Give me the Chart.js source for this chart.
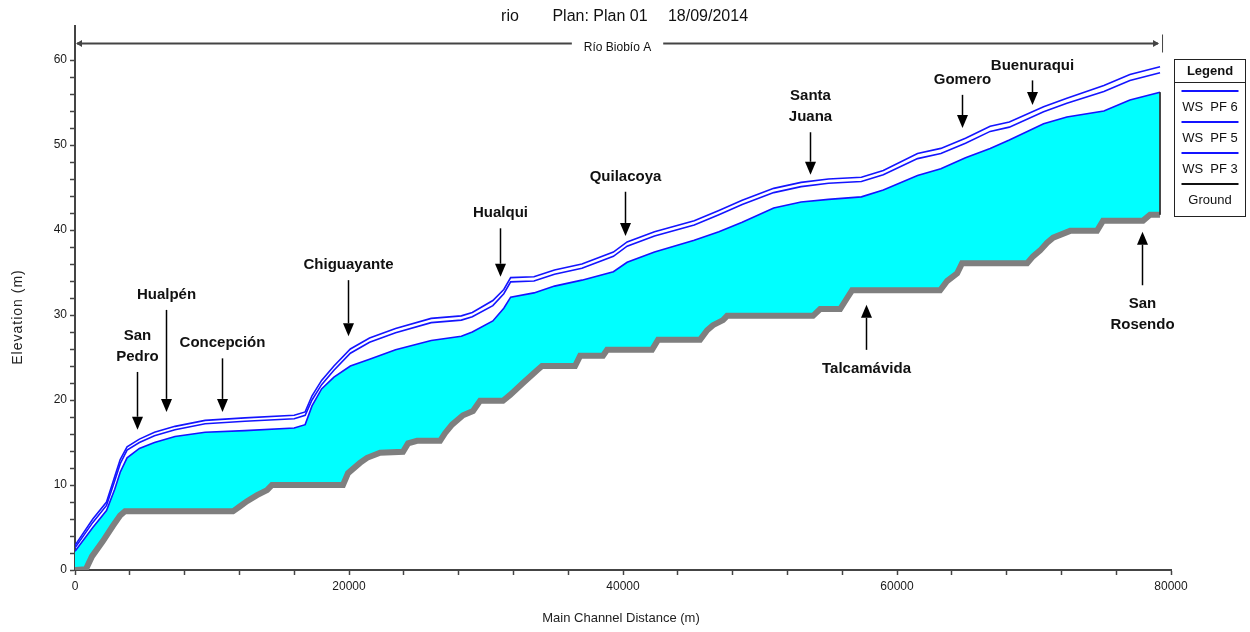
<!DOCTYPE html>
<html>
<head>
<meta charset="utf-8">
<script src="https://cdn.jsdelivr.net/npm/chart.js@4.4.1/dist/chart.umd.min.js"></script>
<style>
  html, body { margin: 0; padding: 0; background: #fff; }
  #wrap { width: 1250px; height: 632px; }
</style>
</head>
<body>
<div id="wrap"><canvas id="profile" width="1250" height="632"></canvas></div>
<script>
// ── Data ──────────────────────────────────────────────────
const groundDist = [0, 800, 1240, 2040, 2770, 3290, 3650, 11530, 12050, 12560, 13290, 14020, 14380,
  19560, 19930, 20800, 21320, 22270, 23940, 24310, 24970, 26650, 27010, 27520, 28320,
  29050, 29570, 31240, 31760, 32700, 33730, 34090, 36500, 36870, 38540, 38840, 42120,
  42560, 45630, 46140, 46570, 47300, 47600, 53870, 54390, 55850, 56360, 56720, 63150,
  63660, 64390, 64750, 69500, 69930, 70450, 70960, 71400, 72640, 74600, 75040, 77960,
  78470, 79200];
const groundElev = [0, 0.1, 1.6, 3.4, 5.2, 6.4, 6.9, 6.9, 7.5, 8.1, 8.8, 9.4, 10.0,
  10.0, 11.4, 12.6, 13.2, 13.8, 13.9, 14.9, 15.2, 15.2, 16.1, 17.1, 18.2,
  18.7, 19.9, 19.9, 20.6, 22.0, 23.5, 24.0, 24.0, 25.2, 25.2, 25.9, 25.9,
  27.1, 27.1, 28.2, 28.8, 29.4, 29.9, 29.9, 30.7, 30.7, 32.0, 32.9, 32.9,
  34.0, 34.9, 36.1, 36.1, 36.9, 37.6, 38.5, 39.1, 39.9, 39.9, 41.1, 41.1,
  41.8, 41.8];

const wsDist = [0, 1300, 2300, 2900, 3300, 3800, 4700, 5800, 7300, 9500,
  12400, 16000, 16800, 17300, 18000, 18900, 20100, 21500, 23400, 26000,
  28200, 29000, 30500, 31300, 31800, 33500, 35000, 37000, 39300, 40300,
  42300, 45200, 47000, 48700, 51000, 53000, 55000, 57400, 59000, 61500,
  63200, 65000, 66800, 68200, 70700, 72400, 75100, 77000, 79200];
const wsPF6 = [2.9, 6.0, 8.0, 11.0, 13.0, 14.5, 15.4, 16.2, 16.9, 17.6,
  17.9, 18.2, 18.6, 20.5, 22.3, 24.0, 26.0, 27.3, 28.4, 29.6,
  29.9, 30.3, 31.7, 33.0, 34.4, 34.5, 35.3, 36.0, 37.4, 38.6,
  39.8, 41.1, 42.3, 43.5, 44.9, 45.6, 46.0, 46.2, 47.0, 49.0,
  49.6, 50.8, 52.2, 52.7, 54.5, 55.5, 57.0, 58.3, 59.2];
const wsPF5 = [2.6, 5.6, 7.6, 10.5, 12.5, 14.1, 15.0, 15.8, 16.5, 17.2,
  17.5, 17.8, 18.2, 20.0, 21.8, 23.5, 25.5, 26.8, 27.9, 29.1,
  29.4, 29.8, 31.1, 32.5, 33.9, 34.0, 34.8, 35.5, 36.9, 38.1,
  39.3, 40.6, 41.8, 43.0, 44.4, 45.1, 45.5, 45.7, 46.5, 48.4,
  49.0, 50.2, 51.6, 52.1, 53.9, 54.9, 56.3, 57.6, 58.5];
const wsPF3 = [2.2, 5.0, 7.0, 9.5, 11.5, 13.2, 14.3, 15.0, 15.7, 16.2,
  16.4, 16.7, 17.1, 19.3, 21.3, 22.7, 24.0, 24.8, 25.9, 27.0,
  27.5, 28.0, 29.3, 30.8, 32.1, 32.6, 33.4, 34.1, 35.1, 36.2,
  37.4, 38.8, 39.8, 40.9, 42.6, 43.3, 43.6, 43.9, 44.7, 46.4,
  47.2, 48.5, 49.6, 50.6, 52.5, 53.3, 54.0, 55.3, 56.2];

const legendLabels = ['WS  PF 6', 'WS  PF 5', 'WS  PF 3', 'Ground'];
const reachName = 'Río Biobío A';

// place markers: station, arrow tail / tip elevation
const markerNames = ['San\nPedro', 'Hualpén', 'Concepción', 'Chiguayante', 'Hualqui', 'Quilacoya',
  'Santa\nJuana', 'Gomero', 'Buenuraqui', 'Talcamávida', 'San\nRosendo'];
const markerDist = [4530, 6640, 10730, 19930, 31030, 40150, 53660, 64750, 69860, 57740, 77890];
const markerTail = [23.3, 30.6, 24.9, 34.1, 40.2, 44.5, 51.5, 55.9, 57.6, 25.9, 33.5];
const markerTip  = [16.5, 18.6, 18.6, 27.5, 34.5, 39.3, 46.5, 52.0, 54.7, 31.2, 39.8];

// ── Helpers ───────────────────────────────────────────────
const FONT = '"Liberation Sans", Arial, sans-serif';
const BLUE = '#1414ff';
const pts = (xs, ys) => xs.map((x, i) => ({ x, y: ys[i] }));

function arrow(ctx, x, y0, y1) {
  const dir = y1 > y0 ? 1 : -1;
  const head = 13;
  ctx.beginPath();
  ctx.moveTo(x, y0);
  ctx.lineTo(x, y1 - dir * head);
  ctx.stroke();
  ctx.beginPath();
  ctx.moveTo(x, y1);
  ctx.lineTo(x - 5.5, y1 - dir * head);
  ctx.lineTo(x + 5.5, y1 - dir * head);
  ctx.closePath();
  ctx.fill();
}

// ── Decorations: title, reach bracket, markers, legend ────
const decor = {
  id: 'decor',
  afterDraw(chart) {
    const { ctx, chartArea: a, scales: { x, y } } = chart;
    ctx.save();
    ctx.fillStyle = '#111';
    ctx.textBaseline = 'middle';
    ctx.textAlign = 'center';

    // title
    ctx.font = '16px ' + FONT;
    ctx.fillText('rio', 510, 17);
    ctx.fillText('Plan: Plan 01', 600, 17);
    ctx.fillText('18/09/2014', 708, 17);

    // reach bracket
    const rx0 = x.getPixelForValue(groundDist[0]);
    const rx1 = x.getPixelForValue(groundDist[groundDist.length - 1]);
    const ry = a.top + 17.5;
    ctx.font = '12px ' + FONT;
    const mid = (rx0 + rx1) / 2;
    const tw = ctx.measureText(reachName).width / 2 + 12;
    ctx.fillText(reachName, mid, ry + 4);
    ctx.strokeStyle = '#444';
    ctx.fillStyle = '#444';
    ctx.lineWidth = 2;
    ctx.beginPath();
    ctx.moveTo(rx0 + 2, ry); ctx.lineTo(mid - tw, ry);
    ctx.moveTo(mid + tw, ry); ctx.lineTo(rx1 - 2, ry);
    ctx.stroke();
    ctx.beginPath();
    ctx.moveTo(rx0 + 1, ry); ctx.lineTo(rx0 + 7, ry - 3.5); ctx.lineTo(rx0 + 7, ry + 3.5); ctx.closePath();
    ctx.moveTo(rx1 - 1, ry); ctx.lineTo(rx1 - 7, ry - 3.5); ctx.lineTo(rx1 - 7, ry + 3.5); ctx.closePath();
    ctx.fill();
    ctx.lineWidth = 1;
    ctx.beginPath();
    ctx.moveTo(rx1 + 2.5, ry - 9); ctx.lineTo(rx1 + 2.5, ry + 9);
    ctx.stroke();

    // markers
    ctx.strokeStyle = '#000';
    ctx.fillStyle = '#000';
    ctx.lineWidth = 1.5;
    ctx.font = 'bold 15px ' + FONT;
    markerNames.forEach((name, i) => {
      const px = Math.round(x.getPixelForValue(markerDist[i])) + 0.5;
      const t0 = y.getPixelForValue(markerTail[i]);
      const t1 = y.getPixelForValue(markerTip[i]);
      arrow(ctx, px, t0, t1);
      const lines = name.split('\n');
      const down = t1 > t0;
      ctx.fillStyle = '#111';
      lines.forEach((ln, k) => {
        const ly = down ? t0 - 15 - (lines.length - 1 - k) * 21 : t0 + 19 + k * 21;
        ctx.fillText(ln, px, ly);
      });
      ctx.fillStyle = '#000';
    });

    // axis titles
    ctx.font = '13px ' + FONT;
    ctx.fillStyle = '#222';
    ctx.fillText('Main Channel Distance (m)', 621, 618);
    ctx.save();
    ctx.translate(18, 317);
    ctx.rotate(-Math.PI / 2);
    ctx.font = '14px ' + FONT;
    ctx.letterSpacing = '1px';
    ctx.fillText('Elevation (m)', 0, 0);
    ctx.restore();

    // legend box
    const lx = 1174.5, ly = 59.5, lw = 71, lh = 157;
    ctx.strokeStyle = '#222';
    ctx.lineWidth = 1;
    ctx.strokeRect(lx, ly, lw, lh);
    ctx.beginPath();
    ctx.moveTo(lx, 82.5); ctx.lineTo(lx + lw, 82.5);
    ctx.stroke();
    ctx.fillStyle = '#111';
    ctx.font = 'bold 13px ' + FONT;
    ctx.fillText('Legend', lx + lw / 2, 71);
    ctx.font = '13px ' + FONT;
    const legColors = [BLUE, BLUE, BLUE, '#111'];
    legendLabels.forEach((lab, i) => {
      const yy = 91 + i * 31;
      ctx.strokeStyle = legColors[i];
      ctx.lineWidth = 2;
      ctx.beginPath();
      ctx.moveTo(lx + 7, yy); ctx.lineTo(lx + lw - 7, yy);
      ctx.stroke();
      ctx.fillText(lab, lx + lw / 2, yy + 16);
    });
    ctx.restore();
  }
};

// ── Chart ─────────────────────────────────────────────────
const ctx = document.getElementById('profile').getContext('2d');
new Chart(ctx, {
  type: 'line',
  data: {
    datasets: [
      { label: legendLabels[0], data: pts(wsDist, wsPF6), borderColor: BLUE, borderWidth: 1.6,
        pointRadius: 0, fill: false, order: 1 },
      { label: legendLabels[1], data: pts(wsDist, wsPF5), borderColor: BLUE, borderWidth: 1.6,
        pointRadius: 0, fill: false, order: 1 },
      { label: legendLabels[2], data: pts(wsDist, wsPF3), borderColor: BLUE, borderWidth: 1.6,
        pointRadius: 0, fill: 3, backgroundColor: '#00ffff', order: 3 },
      { label: legendLabels[3], data: pts(groundDist, groundElev), borderColor: '#7f7f7f', borderWidth: 6,
        pointRadius: 0, fill: false, order: 2, borderJoinStyle: 'miter' },
      { label: 'end', data: [
          { x: wsDist[wsDist.length - 1], y: wsPF3[wsPF3.length - 1] },
          { x: groundDist[groundDist.length - 1], y: groundElev[groundElev.length - 1] }
        ], borderColor: '#333', borderWidth: 1, pointRadius: 0, fill: false, order: 0 }
    ]
  },
  options: {
    responsive: false,
    animation: false,
    layout: { padding: { top: 26, right: 79, bottom: 0, left: 0 } },
    plugins: { legend: { display: false }, tooltip: { enabled: false }, title: { display: false } },
    scales: {
      x: {
        type: 'linear', min: 0, max: 80000,
        afterFit: s => { s.height = 62; },
        border: { display: true, color: '#444', width: 2 },
        grid: { drawOnChartArea: false, drawTicks: true, tickLength: 5, tickColor: '#444', tickWidth: 1.5 },
        ticks: {
          stepSize: 4000, autoSkip: false, maxTicksLimit: 100, maxRotation: 0, padding: 4,
          color: '#1a1a1a', font: { family: FONT, size: 12 },
          callback: v => (v % 20000 === 0 ? v : '')
        }
      },
      y: {
        min: 0, max: 64,
        afterFit: s => { s.width = 75; },
        afterBuildTicks: s => { s.ticks = s.ticks.filter(t => t.value <= 60); },
        border: { display: true, color: '#444', width: 2 },
        grid: { drawOnChartArea: false, drawTicks: true, tickLength: 5, tickColor: '#444', tickWidth: 1.5 },
        ticks: {
          stepSize: 2, autoSkip: false, maxTicksLimit: 100, padding: 3,
          color: '#1a1a1a', font: { family: FONT, size: 12 },
          callback: v => (v % 10 === 0 ? v : '')
        }
      }
    }
  },
  plugins: [decor]
});
</script>
</body>
</html>
